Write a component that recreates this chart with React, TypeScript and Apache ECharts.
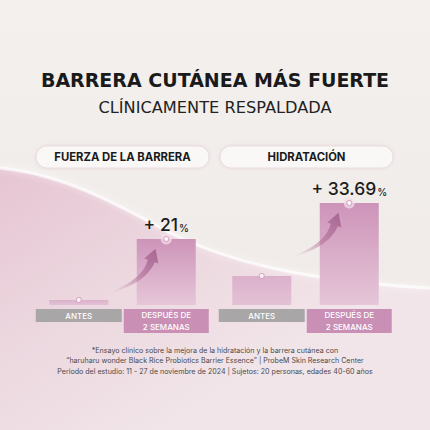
import React, { useEffect, useRef } from "react";
import * as echarts from "echarts";

const categories = ["ANTES", "DESPUÉS DE\n2 SEMANAS"];
const panelTitles = ["FUERZA DE LA BARRERA", "HIDRATACIÓN"];
const barrierValues = [5, 66];
const hydrationValues = [29, 102];
const gainLabels = ["+ 21", "+ 33.69"];
const mainTitle = "BARRERA CUTÁNEA MÁS FUERTE";
const subTitle = "CLÍNICAMENTE RESPALDADA";
const footnotes = [
  "*Ensayo clínico sobre la mejora de la hidratación y la barrera cutánea con",
  "\u201Charuharu wonder Black Rice Probiotics Barrier Essence\u201D | ProbeM Skin Research Center",
  "Periodo del estudio: 11 - 27 de noviembre de 2024 | Sujetos: 20 personas, edades 40-60 años",
];

const FONT = "Inter, 'Noto Sans', sans-serif";
const WIDE = "'DejaVu Sans', Inter, sans-serif";

echarts.graphic.registerShape(
  "wave",
  echarts.graphic.extendPath(
    "M0 168 C 60 174, 110 200, 170 233 C 225 260, 300 281, 430 288 L 430 430 L 0 430 Z",
    {}
  )
);
echarts.graphic.registerShape(
  "waveEdge",
  echarts.graphic.extendPath("M0 168 C 60 174, 110 200, 170 233 C 225 260, 300 281, 430 288", {})
);

function arrowRender(params: any, api: any) {
  const top = api.coord([api.value(0), api.value(1)]);
  const tail = [top[0] - 55, top[1] + 53];
  const ctrl = [top[0] - 22, top[1] + 42];
  const headBase = [top[0] - 15, top[1] + 22];
  const dx = headBase[0] - ctrl[0];
  const dy = headBase[1] - ctrl[1];
  const len = Math.sqrt(dx * dx + dy * dy);
  const ux = dx / len;
  const uy = dy / len;
  const nx = -uy;
  const ny = ux;
  const tip = [headBase[0] + ux * 13, headBase[1] + uy * 13];
  const left: number[][] = [];
  const right: number[][] = [];
  const N = 16;
  for (let i = 0; i <= N; i++) {
    const t = i / N;
    const x = (1 - t) * (1 - t) * tail[0] + 2 * (1 - t) * t * ctrl[0] + t * t * headBase[0];
    const y = (1 - t) * (1 - t) * tail[1] + 2 * (1 - t) * t * ctrl[1] + t * t * headBase[1];
    const tx = 2 * (1 - t) * (ctrl[0] - tail[0]) + 2 * t * (headBase[0] - ctrl[0]);
    const ty = 2 * (1 - t) * (ctrl[1] - tail[1]) + 2 * t * (headBase[1] - ctrl[1]);
    const tl = Math.sqrt(tx * tx + ty * ty);
    const px = -ty / tl;
    const py = tx / tl;
    const w = 0.5 + 3.2 * t;
    left.push([x + px * w, y + py * w]);
    right.push([x - px * w, y - py * w]);
  }
  const pts = [
    ...left,
    [headBase[0] + nx * 7.5, headBase[1] + ny * 7.5],
    tip,
    [headBase[0] - nx * 7.5, headBase[1] - ny * 7.5],
    ...right.reverse(),
  ];
  return {
    type: "polygon",
    shape: { points: pts },
    style: {
      fill: new echarts.graphic.LinearGradient(
        tail[0],
        tail[1],
        tip[0],
        tip[1],
        [
          { offset: 0, color: "rgba(190,130,165,0)" },
          { offset: 0.55, color: "rgba(178,115,155,0.7)" },
          { offset: 1, color: "rgba(165,100,145,0.95)" },
        ],
        true
      ),
    },
  };
}

function panelSeries(idx: number, values: number[]) {
  const rich = {
    n: { fontFamily: FONT, fontSize: 17.5, fontWeight: 500, color: "#1c1c1c", verticalAlign: "bottom", lineHeight: 20 },
    p: { fontFamily: FONT, fontSize: 10, fontWeight: 500, color: "#1c1c1c", verticalAlign: "bottom", lineHeight: 16, padding: [0, 0, 0, 1] },
  };
  return [
    {
      type: "bar",
      xAxisIndex: idx,
      yAxisIndex: idx,
      barWidth: 59,
      z: 2,
      data: [
        {
          value: values[0],
          itemStyle: {
            color: new echarts.graphic.LinearGradient(0, 0, 0, 1, [
              { offset: 0, color: "#dbb0cb" },
              { offset: 1, color: "#e3c2d5" },
            ]),
          },
        },
        {
          value: values[1],
          itemStyle: {
            color: new echarts.graphic.LinearGradient(0, 0, 0, 1, [
              { offset: 0, color: "#cd94b9" },
              { offset: 1, color: "#e6c6d8" },
            ]),
          },
          label: {
            show: true,
            position: "top",
            distance: 6,
            formatter: "{n|" + gainLabels[idx] + "}{p|%}",
            rich,
          },
        },
      ],
    },
    {
      type: "custom",
      xAxisIndex: idx,
      yAxisIndex: idx,
      z: 3,
      renderItem: arrowRender,
      data: [[1, values[1]]],
    },
    {
      type: "scatter",
      xAxisIndex: idx,
      yAxisIndex: idx,
      z: 4,
      symbolSize: 11,
      itemStyle: { color: "rgba(245,222,235,0.95)" },
      data: ["-", values[1]],
    },
    {
      type: "scatter",
      xAxisIndex: idx,
      yAxisIndex: idx,
      z: 5,
      symbolSize: 5,
      itemStyle: { color: "#ffffff", borderColor: "#d49fc0", borderWidth: 1.2 },
      data: values,
    },
  ];
}

const labelRich = {
  a: {
    fontFamily: FONT,
    fontSize: 8,
    fontWeight: 500,
    color: "#ffffff",
    backgroundColor: "#a8a6a7",
    width: 86,
    height: 13,
    lineHeight: 13,
    align: "center",
  },
  b: {
    fontFamily: FONT,
    fontSize: 8,
    fontWeight: 500,
    color: "#ffffff",
    backgroundColor: "#c98fb5",
    width: 85,
    height: 12,
    lineHeight: 12,
    align: "center",
  },
};

function xAxisFor(idx: number) {
  return {
    type: "category",
    gridIndex: idx,
    data: categories,
    axisLine: { show: false },
    axisTick: { show: false },
    axisLabel: {
      margin: 4,
      interval: 0,
      formatter: (v: string) =>
        v.indexOf("\n") >= 0
          ? v
              .split("\n")
              .map((s) => "{b|" + s + "}")
              .join("\n")
          : "{a|" + v + "}",
      rich: labelRich,
    },
  };
}

function yAxisFor(idx: number) {
  return {
    type: "value",
    gridIndex: idx,
    min: 0,
    max: 120,
    show: false,
    splitLine: { show: false },
  };
}

function pill(x: number, text: string) {
  return {
    type: "group",
    children: [
      {
        type: "rect",
        shape: { x, y: 146, width: 173, height: 22, r: 11 },
        style: {
          fill: "#faf8f7",
          stroke: "#ecdde2",
          lineWidth: 1,
          shadowBlur: 3,
          shadowColor: "rgba(180,140,160,0.25)",
        },
      },
      {
        type: "text",
        x: x + 86.5,
        y: 157,
        style: {
          text,
          fontFamily: FONT,
          fontSize: 11.3,
          fontWeight: 700,
          fill: "#1b1b1b",
          align: "center",
          verticalAlign: "middle",
        },
      },
    ],
  };
}

export default function App() {
  const ref = useRef<HTMLDivElement>(null);
  useEffect(() => {
    if (!ref.current) return;
    const chart = echarts.init(ref.current, null, { renderer: "svg" });
    chart.setOption({
      animation: false,
      backgroundColor: "#f2eeeb",
      grid: [
        { left: 35, width: 175, top: 185, height: 120 },
        { left: 218, width: 175, top: 185, height: 120 },
      ],
      xAxis: [xAxisFor(0), xAxisFor(1)],
      yAxis: [yAxisFor(0), yAxisFor(1)],
      series: [...panelSeries(0, barrierValues), ...panelSeries(1, hydrationValues)],
      graphic: [
        {
          type: "rect",
          z: -20,
          shape: { x: 0, y: 0, width: 430, height: 430 },
          style: {
            fill: new echarts.graphic.LinearGradient(0, 0, 0, 1, [
              { offset: 0, color: "#f3f0ed" },
              { offset: 1, color: "#efe9e6" },
            ]),
          },
        },
        {
          type: "wave",
          z: -10,
          x: 0,
          y: 0,
          style: {
            fill: new echarts.graphic.LinearGradient(
              0,
              170,
              160,
              430,
              [
                { offset: 0, color: "#e6c5d2" },
                { offset: 0.5, color: "#ecd7df" },
                { offset: 1, color: "#f1e5e9" },
              ],
              true
            ),
          },
        },
        {
          type: "waveEdge",
          z: -9,
          x: 0,
          y: 0,
          style: {
            fill: null,
            stroke: "rgba(255,255,255,0.7)",
            lineWidth: 3,
            shadowBlur: 6,
            shadowColor: "rgba(255,255,255,0.9)",
          },
        },
        {
          type: "text",
          x: 215,
          y: 80,
          style: {
            text: mainTitle,
            fontFamily: WIDE,
            fontSize: 19,
            fontWeight: 700,
            fill: "#1a1a1a",
            align: "center",
            verticalAlign: "middle",
          },
        },
        {
          type: "text",
          x: 215,
          y: 107,
          style: {
            text: subTitle,
            fontFamily: WIDE,
            fontSize: 16.2,
            fontWeight: 400,
            fill: "#222222",
            align: "center",
            verticalAlign: "middle",
          },
        },
        pill(36, panelTitles[0]),
        pill(220, panelTitles[1]),
        ...footnotes.map((t, i) => ({
          type: "text",
          x: 215,
          y: 350 + i * 10.5,
          style: {
            text: t,
            fontFamily: FONT,
            fontSize: 7.1,
            fill: "#4a4a4a",
            align: "center",
            verticalAlign: "middle",
          },
        })),
      ],
    });
    return () => chart.dispose();
  }, []);
  return (
    <div
      ref={ref}
      style={{ position: "fixed", left: 0, top: 0, width: 430, height: 430 }}
    />
  );
}
